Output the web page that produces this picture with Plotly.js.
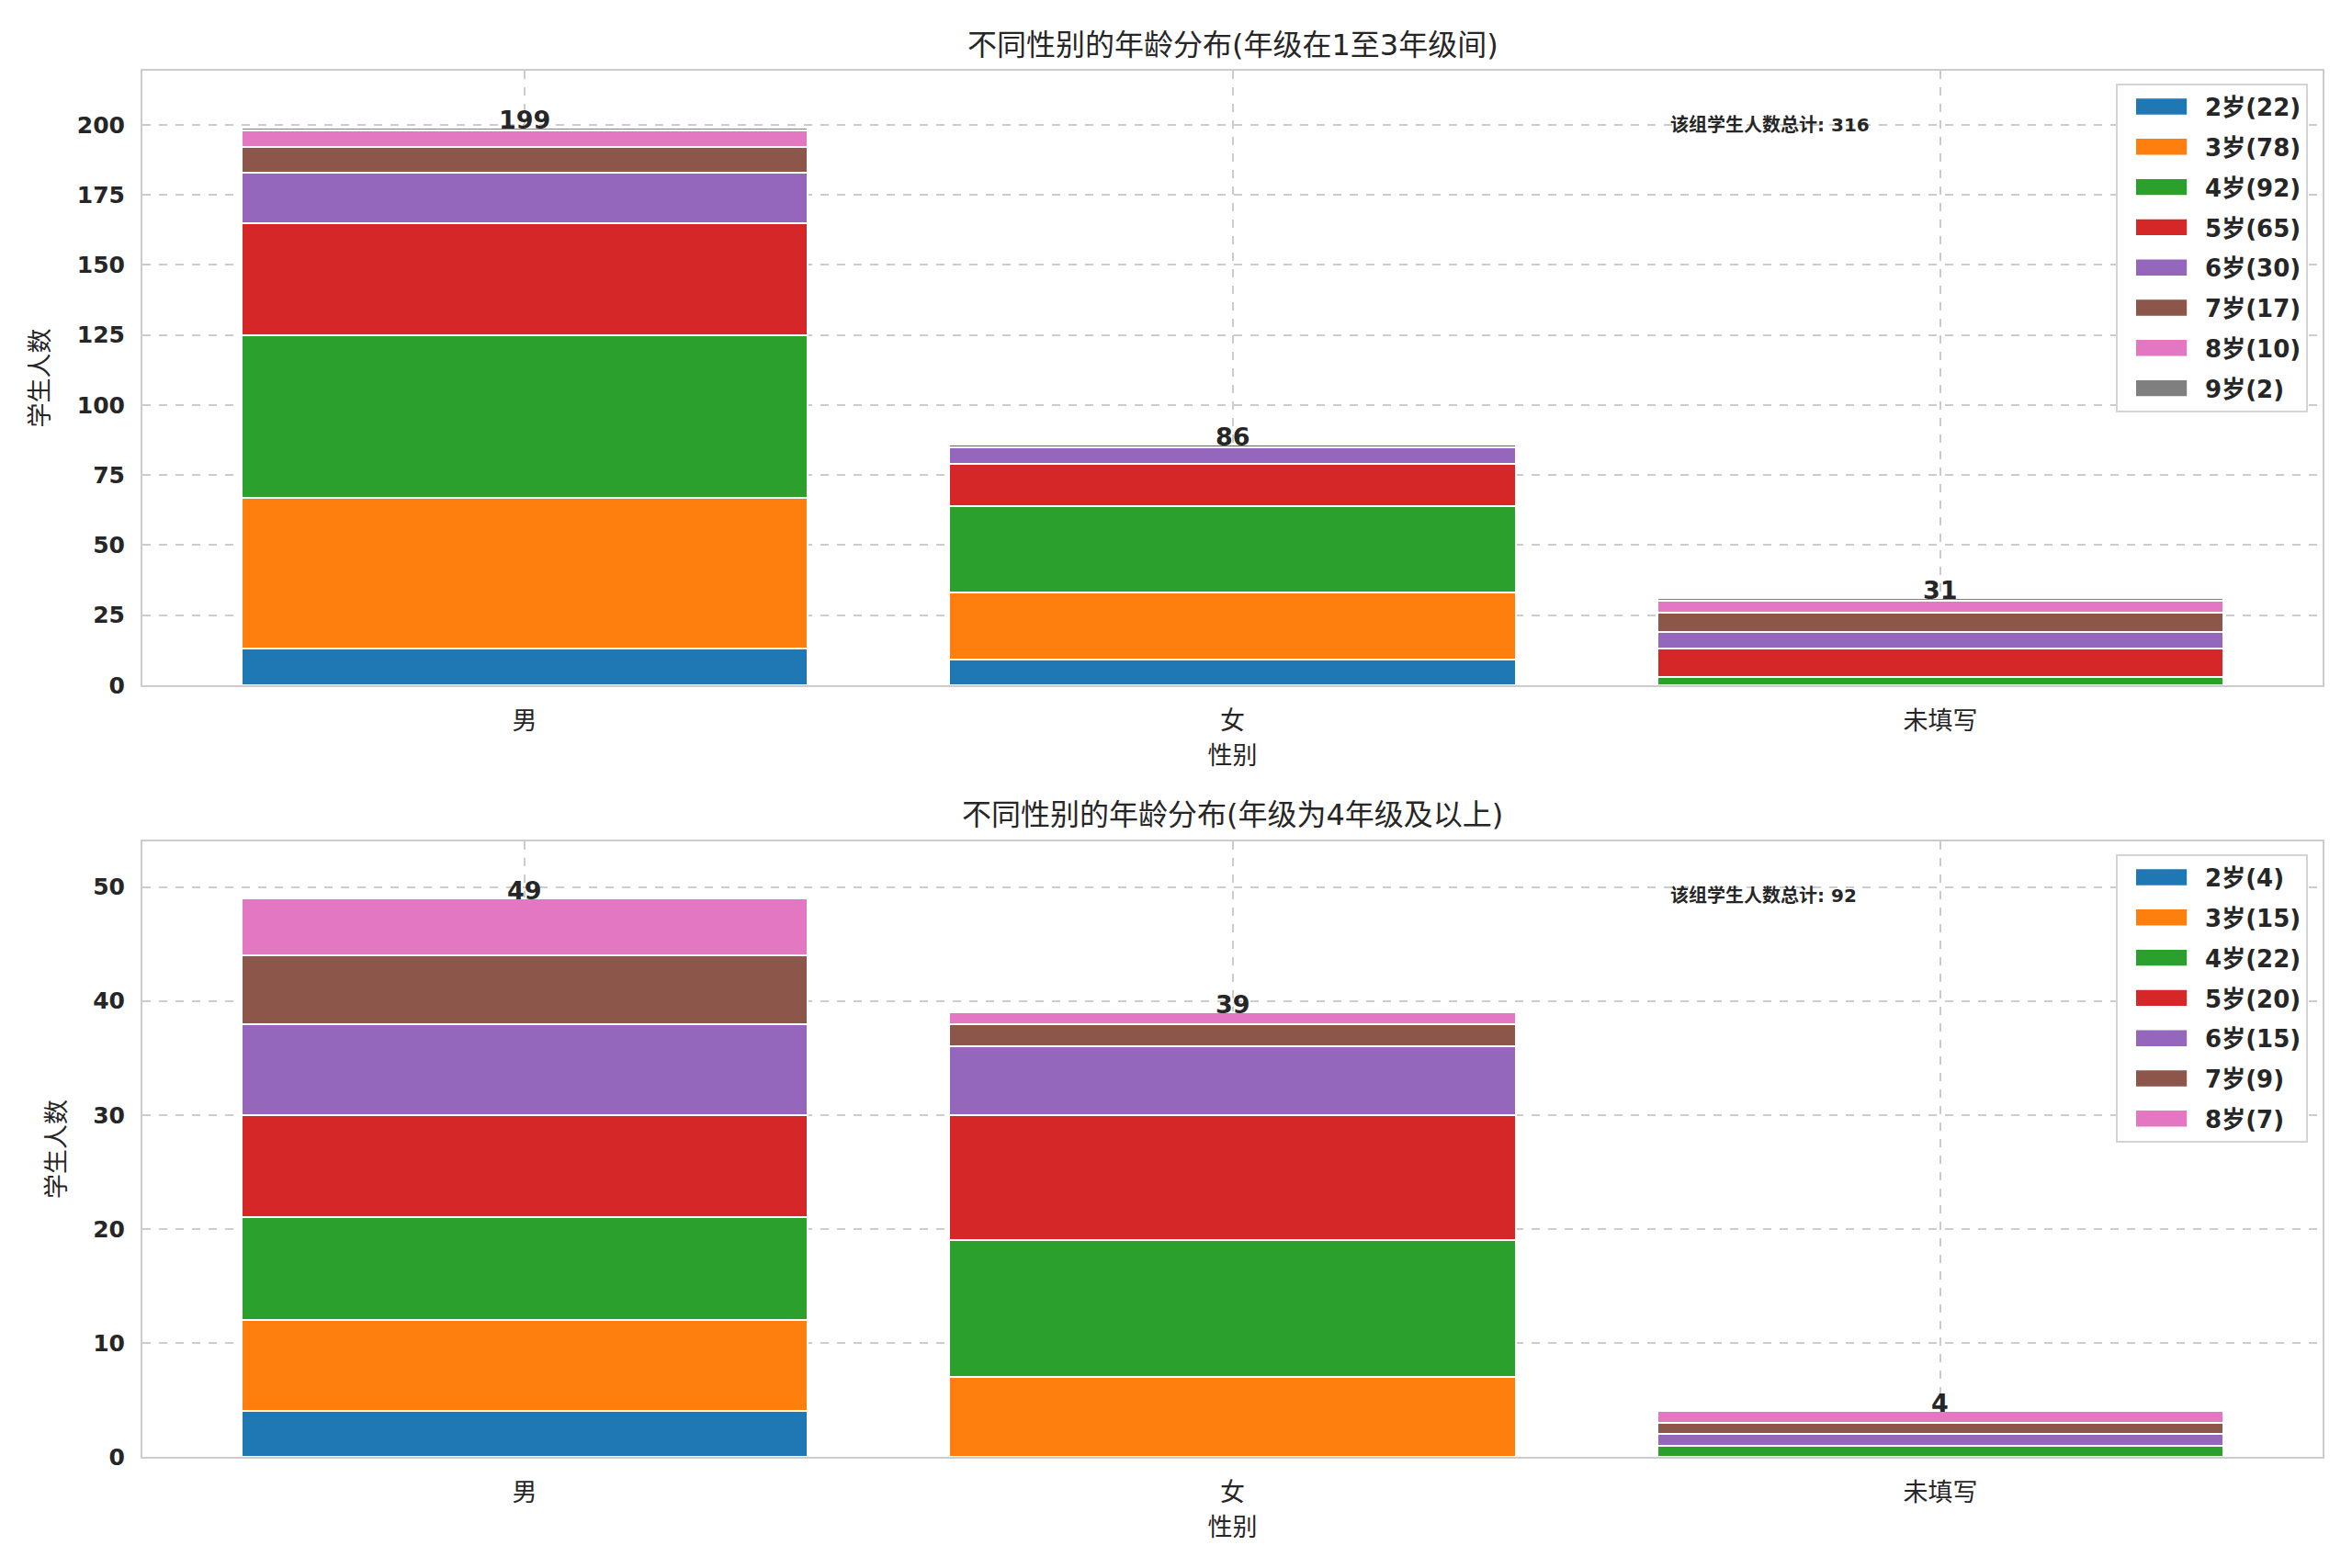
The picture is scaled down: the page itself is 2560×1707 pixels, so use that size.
<!DOCTYPE html>
<html>
<head>
<meta charset="utf-8">
<script src="https://cdn.plot.ly/plotly-3.0.1.min.js"></script>
<style>
  html, body { margin: 0; padding: 0; background: #fff; }
  #plot { width: 2560px; height: 1707px; }
</style>
</head>
<body>
<div id="plot"></div>
<script>
/* global document Plotly */

const genders = ['男', '女', '未填写'];

// 年级在1至3年级间
const topAges = ['2岁', '3岁', '4岁', '5岁', '6岁', '7岁', '8岁', '9岁'];
const topCounts = [
  [13, 9, 0],
  [54, 24, 0],
  [58, 31, 3],
  [40, 15, 10],
  [18, 6, 6],
  [9, 1, 7],
  [6, 0, 4],
  [1, 0, 1],
];

// 年级为4年级及以上
const bottomAges = ['2岁', '3岁', '4岁', '5岁', '6岁', '7岁', '8岁'];
const bottomCounts = [
  [4, 0, 0],
  [8, 7, 0],
  [9, 12, 1],
  [9, 11, 0],
  [8, 6, 1],
  [6, 2, 1],
  [5, 1, 1],
];

const titles = [
  '不同性别的年龄分布(年级在1至3年级间)',
  '不同性别的年龄分布(年级为4年级及以上)',
];

const palette = ['#1f77b4', '#ff7f0e', '#2ca02c', '#d62728', '#9467bd', '#8c564b', '#e377c2', '#7f7f7f'];
const fontFamily = 'DejaVu Sans, Noto Sans CJK SC, sans-serif';
const textColor = '#262626';

const sum = (arr) => arr.reduce((a, b) => a + b, 0);

function buildTraces(ages, counts, xaxis, yaxis, legend) {
  return ages.map((age, i) => ({
    type: 'bar',
    x: genders,
    y: counts[i],
    name: `${age}(${sum(counts[i])})`,
    xaxis,
    yaxis,
    legend,
    legendgroup: `${legend}-${age}`,
    marker: { color: palette[i], line: { color: '#ffffff', width: 2 } },
    hoverinfo: 'skip',
  }));
}

function genderTotals(counts) {
  return genders.map((g, j) => sum(counts.map((row) => row[j])));
}

const data = [
  ...buildTraces(topAges, topCounts, 'x', 'y', 'legend'),
  ...buildTraces(bottomAges, bottomCounts, 'x2', 'y2', 'legend2'),
];

const topTotals = genderTotals(topCounts);
const bottomTotals = genderTotals(bottomCounts);

function totalLabels(totals, xref, yref) {
  return totals.map((t, j) => ({
    x: genders[j],
    y: t,
    xref,
    yref,
    text: String(t),
    showarrow: false,
    yanchor: 'bottom',
    yshift: -9,
    font: { family: fontFamily, size: 27, color: textColor, weight: 'bold' },
  }));
}

const axisLine = {
  showline: true,
  mirror: true,
  linecolor: '#cccccc',
  linewidth: 2,
  showgrid: true,
  gridcolor: '#cccccc',
  gridwidth: 2,
  griddash: 'dash',
  zeroline: false,
  ticks: '',
  tickfont: { family: fontFamily, size: 25, color: textColor, weight: 'bold' },
};

const xAxisBase = {
  ...axisLine,
  range: [-0.54, 2.54],
  ticklabelstandoff: 14,
  tickfont: { family: fontFamily, size: 27, color: textColor },
  title: { text: '性别', font: { family: fontFamily, size: 27, color: textColor }, standoff: 14 },
};

const yAxisBase = {
  ...axisLine,
  ticklabelstandoff: 12,
  title: { text: '学生人数', font: { family: fontFamily, size: 27, color: textColor }, standoff: 22 },
};

const legendBase = {
  x: 0.9933,
  xanchor: 'right',
  yanchor: 'top',
  bgcolor: '#ffffff',
  bordercolor: '#d4d4d4',
  borderwidth: 2,
  font: { family: fontFamily, size: 26, color: textColor, weight: 'bold' },
  itemwidth: 85,
  tracegroupgap: 7,
  traceorder: 'grouped',
};

const layout = {
  width: 2560,
  height: 1707,
  paper_bgcolor: '#ffffff',
  plot_bgcolor: '#ffffff',
  barmode: 'stack',
  bargap: 0.2,
  margin: { l: 155, r: 32, t: 77, b: 121 },
  font: { family: fontFamily, color: textColor },
  xaxis: { ...xAxisBase, anchor: 'y', domain: [0, 1] },
  yaxis: { ...yAxisBase, anchor: 'x', domain: [0.5567, 1], range: [0, 219.3], dtick: 25 },
  xaxis2: { ...xAxisBase, anchor: 'y2', domain: [0, 1] },
  yaxis2: { ...yAxisBase, anchor: 'x2', domain: [0, 0.444], range: [0, 54], dtick: 10 },
  legend: { ...legendBase, y: 0.991 },
  legend2: { ...legendBase, y: 0.435 },
  annotations: [
    {
      text: titles[0], xref: 'paper', yref: 'paper', x: 0.5, y: 1.0186,
      yanchor: 'middle', showarrow: false,
      font: { family: fontFamily, size: 32, color: textColor },
    },
    {
      text: titles[1], xref: 'paper', yref: 'paper', x: 0.5, y: 0.4632,
      yanchor: 'middle', showarrow: false,
      font: { family: fontFamily, size: 32, color: textColor },
    },
    {
      text: `该组学生人数总计: ${sum(topTotals)}`, xref: 'x domain', yref: 'y domain',
      x: 0.7, y: 0.912, xanchor: 'left', yanchor: 'middle', showarrow: false,
      font: { family: fontFamily, size: 20, color: textColor, weight: 'bold' },
    },
    {
      text: `该组学生人数总计: ${sum(bottomTotals)}`, xref: 'x2 domain', yref: 'y2 domain',
      x: 0.7, y: 0.912, xanchor: 'left', yanchor: 'middle', showarrow: false,
      font: { family: fontFamily, size: 20, color: textColor, weight: 'bold' },
    },
    ...totalLabels(topTotals, 'x', 'y'),
    ...totalLabels(bottomTotals, 'x2', 'y2'),
  ],
};

// matplotlib-style wide legend patches
function widenLegendSwatches() {
  document.querySelectorAll('.legendpoints path').forEach((p) => {
    const t = p.getAttribute('transform') || '';
    p.setAttribute('transform', `${t} scale(4.6,1.45)`);
    p.style.strokeWidth = '0';
  });
}

Plotly.newPlot('plot', data, layout, { staticPlot: true }).then(widenLegendSwatches);
</script>
</body>
</html>
